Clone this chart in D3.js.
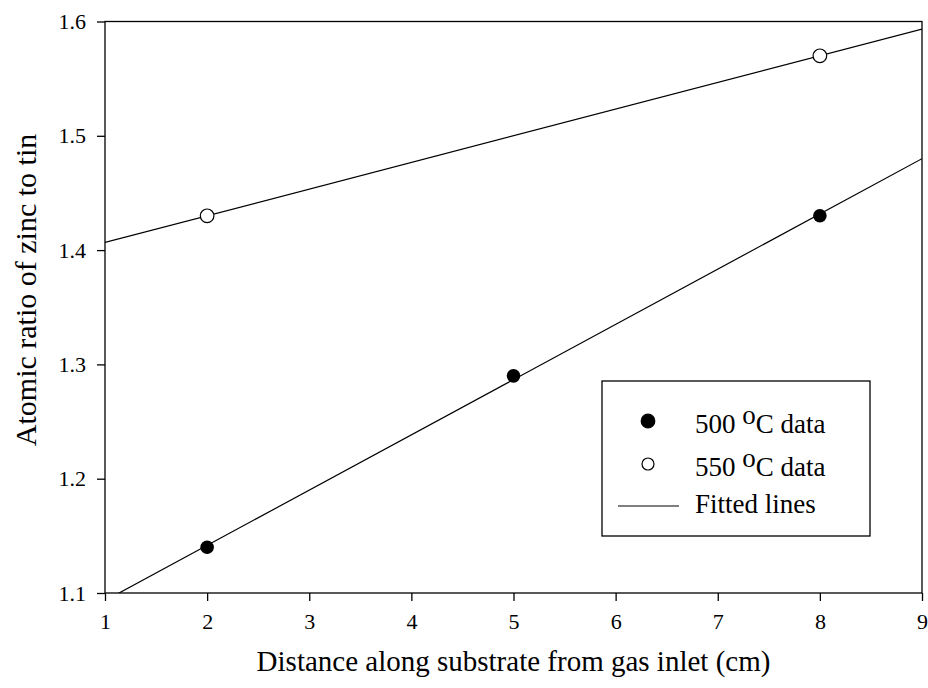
<!DOCTYPE html>
<html>
<head>
<meta charset="utf-8">
<script src="https://cdn.jsdelivr.net/npm/d3@7"></script>
<style>
  body { margin: 0; background: #fff; }
  svg text { font-family: 'Liberation Serif', 'Times New Roman', Times, 'DejaVu Serif', serif !important; fill: #000; }
</style>
</head>
<body>
<svg id="chart" width="928" height="688"></svg>
<script>
// data
var distance = [2, 5, 8];
var ratio500 = [1.14, 1.29, 1.43];
var distance550 = [2, 8];
var ratio550 = [1.43, 1.57];
var xTicks = [1, 2, 3, 4, 5, 6, 7, 8, 9];
var yTicks = [1.1, 1.2, 1.3, 1.4, 1.5, 1.6];

var margin = {left: 105, right: 6, top: 21.5, bottom: 95};
var width = 928, height = 688;
var svg = d3.select("#chart");

var x = d3.scaleLinear().domain([1, 9]).range([margin.left, width - margin.right]);
var y = d3.scaleLinear().domain([1.1, 1.6]).range([height - margin.bottom, margin.top]);

// least squares fit for each series
function fit(xs, ys) {
  var mx = d3.mean(xs), my = d3.mean(ys);
  var num = d3.sum(xs, function(v, i) { return (v - mx) * (ys[i] - my); });
  var den = d3.sum(xs, function(v) { return (v - mx) * (v - mx); });
  var b = num / den;
  return {b: b, a: my - b * mx};
}

svg.append("clipPath").attr("id", "plot-clip")
  .append("rect")
  .attr("x", x(1)).attr("y", y(1.6))
  .attr("width", x(9) - x(1)).attr("height", y(1.1) - y(1.6));

var g = svg.append("g").attr("clip-path", "url(#plot-clip)");

[[distance, ratio500], [distance550, ratio550]].forEach(function(s) {
  var f = fit(s[0], s[1]);
  g.append("line")
    .attr("x1", x(1)).attr("y1", y(f.a + f.b * 1))
    .attr("x2", x(9)).attr("y2", y(f.a + f.b * 9))
    .attr("stroke", "#000").attr("stroke-width", 1.2);
});

// frame
svg.append("rect")
  .attr("x", x(1)).attr("y", y(1.6))
  .attr("width", x(9) - x(1)).attr("height", y(1.1) - y(1.6))
  .attr("fill", "none").attr("stroke", "#000").attr("stroke-width", 1.3);

var xAxis = svg.append("g")
  .attr("transform", "translate(0," + y(1.1) + ")")
  .call(d3.axisBottom(x).tickValues(xTicks).tickFormat(d3.format("d")).tickSize(8).tickPadding(12));
var yAxis = svg.append("g")
  .attr("transform", "translate(" + x(1) + ",0)")
  .call(d3.axisLeft(y).tickValues(yTicks).tickFormat(d3.format(".1f")).tickSize(8).tickPadding(11));

[xAxis, yAxis].forEach(function(a) {
  a.attr("font-family", null).attr("font-size", null);
  a.select(".domain").remove();
  a.selectAll("line").attr("stroke", "#000").attr("stroke-width", 1.3);
  a.selectAll("text").style("font-size", "22px");
});

// points
svg.selectAll(".p500").data(distance).enter().append("circle")
  .attr("class", "p500")
  .attr("cx", function(d) { return x(d); })
  .attr("cy", function(d, i) { return y(ratio500[i]); })
  .attr("r", 6.8).attr("fill", "#000");

svg.selectAll(".p550").data(distance550).enter().append("circle")
  .attr("class", "p550")
  .attr("cx", function(d) { return x(d); })
  .attr("cy", function(d, i) { return y(ratio550[i]); })
  .attr("r", 6.8).attr("fill", "#fff").attr("stroke", "#000").attr("stroke-width", 1.2);

// axis titles
svg.append("text")
  .attr("x", (x(1) + x(9)) / 2).attr("y", 671)
  .attr("text-anchor", "middle").style("font-size", "29px")
  .text("Distance along substrate from gas inlet (cm)");

svg.append("text")
  .attr("transform", "translate(36,290) rotate(-90)")
  .attr("text-anchor", "middle").style("font-size", "30px")
  .text("Atomic ratio of zinc to tin");

// legend
var leg = svg.append("g");
leg.append("rect")
  .attr("x", 602).attr("y", 381).attr("width", 268).attr("height", 155)
  .attr("fill", "#fff").attr("stroke", "#000").attr("stroke-width", 1.3);

var legItems = [
  {label: "500", y: 433, type: "filled"},
  {label: "550", y: 476, type: "open"},
  {label: "Fitted lines", y: 513, type: "line"}
];

legItems.forEach(function(it) {
  if (it.type === "line") {
    leg.append("line").attr("x1", 618).attr("x2", 679)
      .attr("y1", it.y - 7).attr("y2", it.y - 7)
      .attr("stroke", "#000").attr("stroke-width", 1.2);
    leg.append("text").attr("x", 695).attr("y", it.y)
      .style("font-size", "27px").text(it.label);
  } else {
    leg.append("circle").attr("cx", 648).attr("cy", it.y - 12)
      .attr("r", it.type === "filled" ? 6.8 : 6)
      .attr("fill", it.type === "filled" ? "#000" : "#fff")
      .attr("stroke", "#000").attr("stroke-width", 1.2);
    var t = leg.append("text").attr("x", 695).attr("y", it.y).style("font-size", "27px");
    t.append("tspan").text(it.label + " ");
    t.append("tspan").attr("dy", -9).style("font-size", "27px").text("o");
    t.append("tspan").attr("dy", 9).text("C data");
  }
});
</script>
</body>
</html>
